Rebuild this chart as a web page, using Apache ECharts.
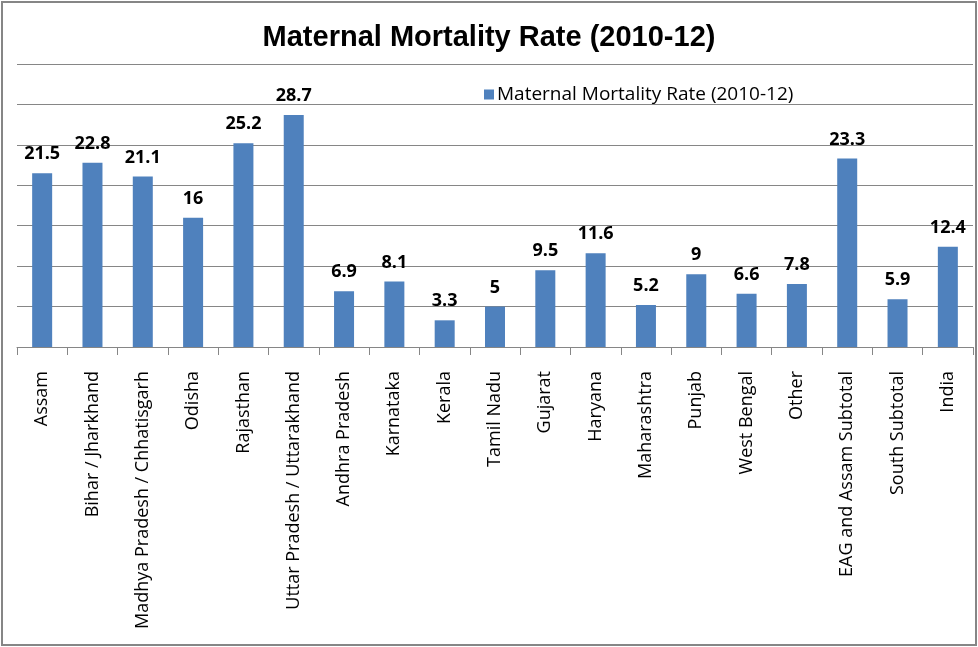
<!DOCTYPE html>
<html>
<head>
<meta charset="utf-8">
<script src="https://cdn.jsdelivr.net/npm/echarts@6/dist/echarts.min.js"></script>
<style>
html,body{margin:0;padding:0;background:#fff;}
#chart{width:978px;height:647px;}
</style>
</head>
<body>
<div id="chart"></div>
<script>
const categories = ["Assam","Bihar / Jharkhand","Madhya Pradesh / Chhatisgarh","Odisha","Rajasthan","Uttar Pradesh / Uttarakhand","Andhra Pradesh","Karnataka","Kerala","Tamil Nadu","Gujarat","Haryana","Maharashtra","Punjab","West Bengal","Other","EAG and Assam Subtotal","South Subtotal","India"];
const values = [21.5,22.8,21.1,16,25.2,28.7,6.9,8.1,3.3,5,9.5,11.6,5.2,9,6.6,7.8,23.3,5.9,12.4];
const seriesName = "Maternal Mortality Rate (2010-12)";
const titleText = "Maternal Mortality Rate (2010-12)";

const chart = echarts.init(document.getElementById('chart'));
chart.setOption({
  animation:false,
  backgroundColor:'#fff',
  title:{
    text:titleText, left:'center', top:18,
    textStyle:{fontFamily:'Liberation Sans, Arial', fontWeight:'bold', fontSize:29, color:'#000'}
  },
  legend:{
    data:[seriesName], left:479, top:80,
    itemWidth:10, itemHeight:10, itemGap:0,
    icon:'rect',
    textStyle:{fontFamily:'Open Sans', fontSize:19, color:'#000', padding:[0,0,0,-2]}
  },
  graphic:[{
    type:'rect', shape:{x:2,y:2,width:974,height:643},
    style:{fill:'none', stroke:'#868686', lineWidth:2}, silent:true, z:100
  }],
  grid:{left:17, right:5, top:64, bottom:300, containLabel:false},
  xAxis:{
    type:'category', data:categories,
    axisLine:{lineStyle:{color:'#868686', width:1}},
    axisTick:{show:true, length:8, lineStyle:{color:'#868686'}},
    axisLabel:{rotate:90, margin:24, interval:0, fontFamily:'Open Sans', fontSize:18, color:'#000'}
  },
  yAxis:{
    type:'value', min:0, max:35, interval:5,
    axisLine:{show:false}, axisTick:{show:false}, axisLabel:{show:false},
    splitLine:{lineStyle:{color:'#868686', width:1}}
  },
  series:[{
    name:seriesName, type:'bar', data:values, barWidth:20,
    itemStyle:{color:'#4F81BD'},
    label:{show:true, position:'top', distance:10, fontFamily:'Open Sans', fontWeight:'bold', fontSize:18, color:'#000'}
  }]
});
</script>
</body>
</html>
